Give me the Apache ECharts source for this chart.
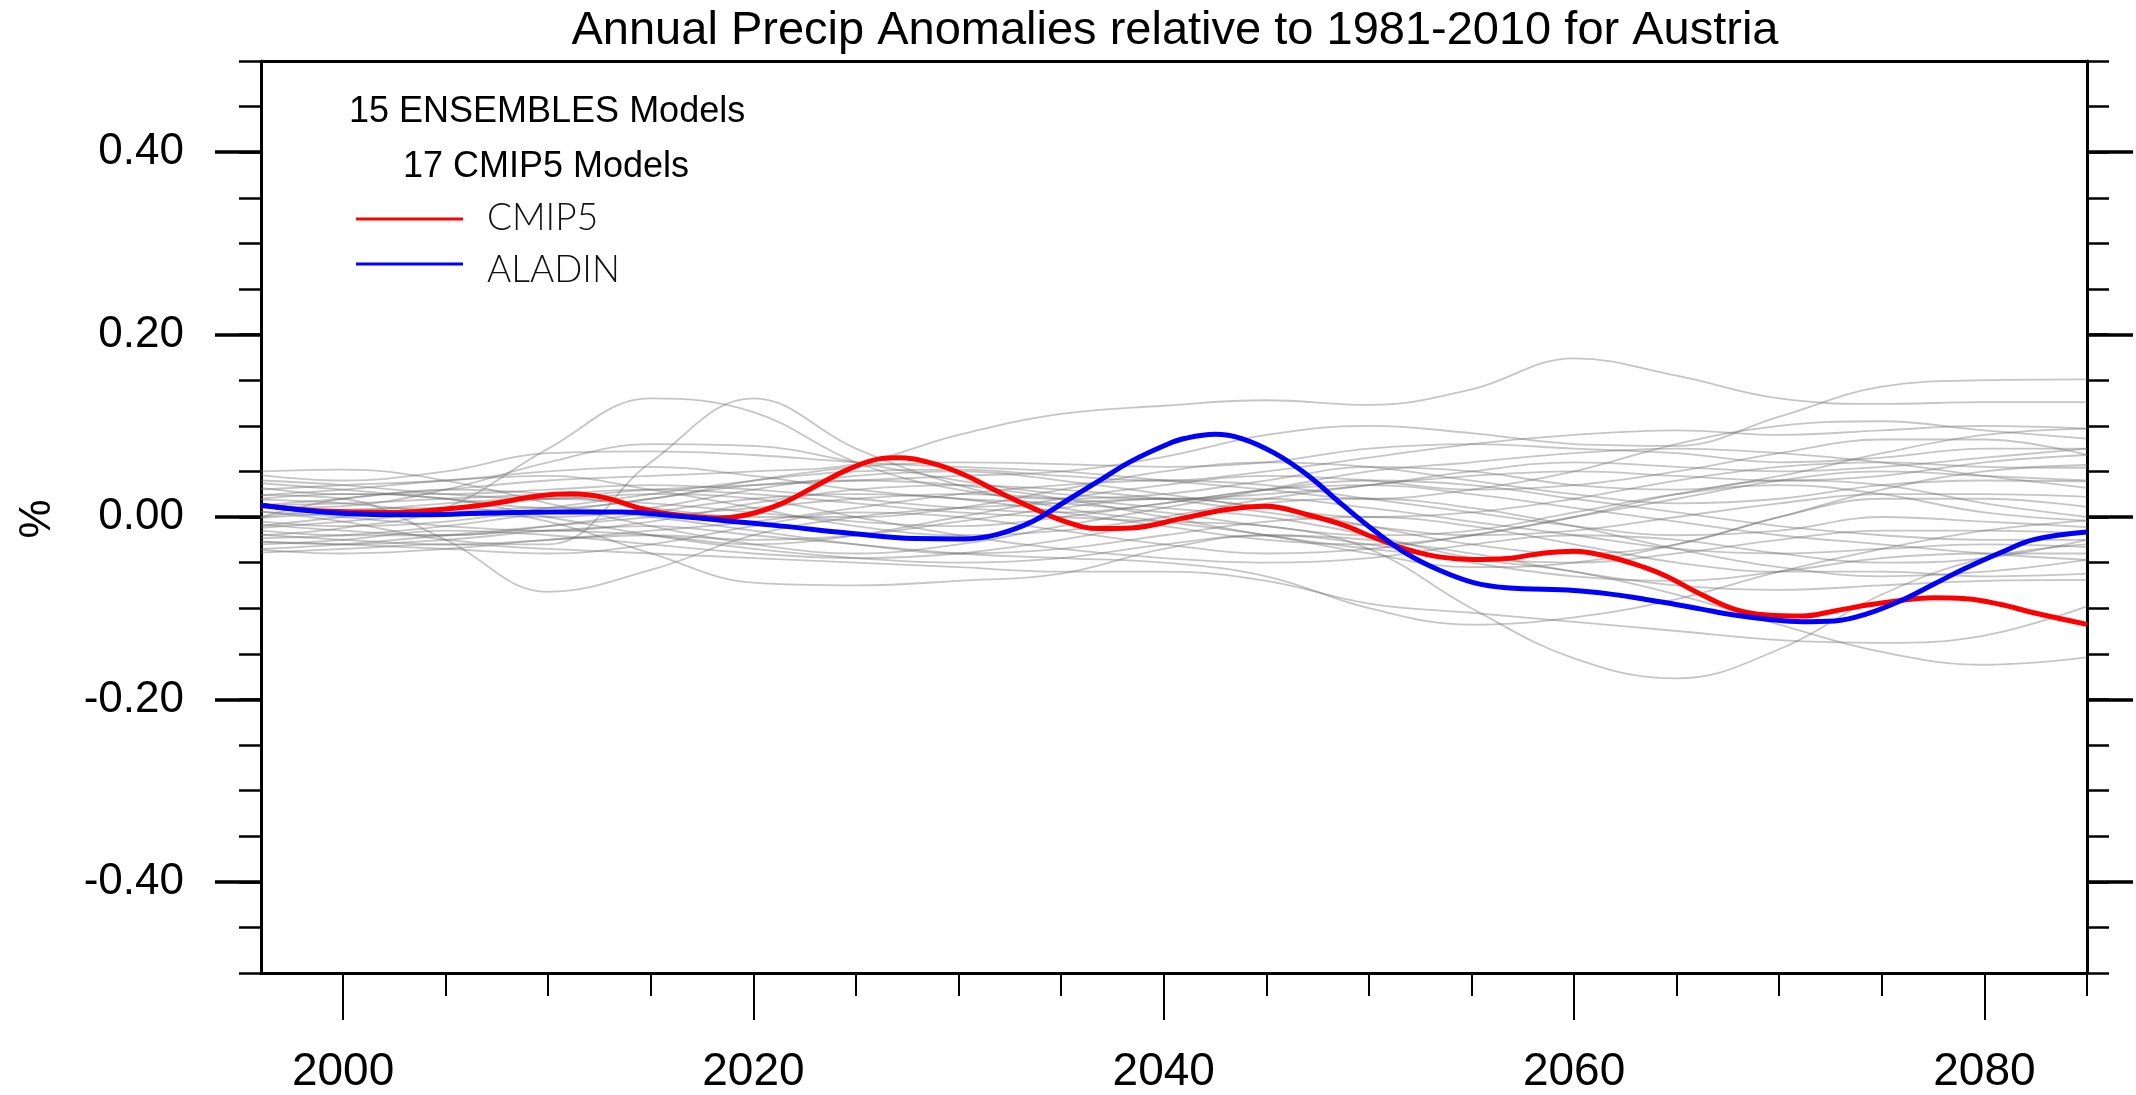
<!DOCTYPE html>
<html><head><meta charset="utf-8">
<script src="https://cdn.jsdelivr.net/npm/echarts@6/dist/echarts.min.js"></script>
<style>html,body{margin:0;padding:0;background:#fff}#c{width:2136px;height:1095px}</style>
</head><body><div id="c"></div>
<script>
// ---- data ----
const years = [1996,2000,2005,2010,2015,2020,2025,2030,2035,2040,2045,2050,2055,2060,2065,2070,2075,2080,2085];

const g01 = [-0.02,-0.012,0.01,0.075,0.13,0.115,0.06,0.03,0.02,0.025,0.04,0.055,0.05,0.035,0.03,0.045,0.07,0.09,0.097];
const g02 = [0.006,-0.005,-0.025,-0.03,0.06,0.13,0.075,0.035,0.01,-0.005,-0.02,-0.04,-0.055,-0.05,-0.03,0.0,0.03,0.05,0.057];
const g03 = [0.024,0.02,-0.025,-0.082,-0.058,-0.02,0.0,0.01,0.015,0.02,0.01,-0.01,-0.03,-0.04,-0.03,0.0,0.02,0.02,0.011];
const g04 = [0.0,0.008,0.01,-0.005,-0.04,-0.072,-0.075,-0.07,-0.062,-0.035,-0.02,-0.025,-0.04,-0.06,-0.075,-0.08,-0.075,-0.07,-0.069];
const g05 = [0.0,0.02,0.03,0.04,0.045,0.05,0.058,0.09,0.113,0.122,0.128,0.123,0.14,0.174,0.155,0.13,0.124,0.126,0.126];
const g06 = [-0.01,0.0,0.01,0.02,0.03,0.035,0.04,0.045,0.05,0.066,0.09,0.1,0.092,0.08,0.078,0.11,0.143,0.15,0.151];
const g07 = [0.013,0.015,0.02,0.025,0.03,0.025,0.015,0.005,0.0,-0.005,-0.01,-0.035,-0.1,-0.155,-0.177,-0.145,-0.085,-0.045,-0.03];
const g08 = [-0.035,-0.03,-0.02,-0.01,0.0,0.01,0.02,0.025,0.02,0.01,0.0,-0.02,-0.045,-0.06,-0.085,-0.118,-0.148,-0.162,-0.154];
const g09 = [-0.039,-0.035,-0.03,-0.035,-0.04,-0.045,-0.05,-0.055,-0.06,-0.06,-0.07,-0.095,-0.105,-0.115,-0.125,-0.135,-0.138,-0.13,-0.098];
const g10 = [-0.027,-0.03,-0.025,-0.015,-0.01,-0.02,-0.03,-0.04,-0.045,-0.05,-0.065,-0.1,-0.118,-0.11,-0.09,-0.06,-0.035,-0.015,-0.004];
const g11 = [0.05,0.052,0.04,0.015,-0.01,-0.03,-0.04,-0.03,-0.01,0.01,0.03,0.05,0.06,0.07,0.075,0.07,0.06,0.045,0.032];
const g12 = [0.046,0.04,0.05,0.07,0.072,0.068,0.06,0.055,0.05,0.04,0.03,0.02,0.03,0.05,0.08,0.1,0.105,0.095,0.086];
const g13 = [0.037,0.03,0.02,0.01,0.02,0.04,0.055,0.06,0.058,0.055,0.06,0.075,0.08,0.075,0.07,0.06,0.065,0.075,0.075];
const g14 = [0.032,0.025,0.025,0.03,0.035,0.03,0.02,0.01,0.005,0.015,0.03,0.04,0.035,0.02,0.005,-0.01,-0.02,-0.025,-0.025];
const g15 = [0.024,0.03,0.04,0.045,0.03,0.01,-0.01,-0.02,-0.015,0.0,0.02,0.035,0.045,0.05,0.045,0.04,0.045,0.06,0.068];
const g16 = [0.019,0.015,0.005,0.0,0.01,0.03,0.045,0.05,0.04,0.025,0.01,0.0,0.005,0.02,0.04,0.055,0.06,0.055,0.054];
const g17 = [0.013,0.02,0.03,0.025,0.01,0.0,0.0,0.01,0.03,0.05,0.06,0.055,0.04,0.025,0.015,0.02,0.035,0.04,0.039];
const g18 = [0.006,0.0,-0.01,-0.015,-0.005,0.015,0.03,0.035,0.03,0.02,0.005,-0.01,-0.02,-0.015,0.0,0.015,0.025,0.025,0.022];
const g19 = [-0.001,0.005,0.015,0.02,0.015,0.005,-0.005,-0.01,0.0,0.015,0.03,0.035,0.025,0.01,-0.005,-0.02,-0.03,-0.04,-0.047];
const g20 = [-0.008,-0.015,-0.02,-0.01,0.005,0.02,0.025,0.02,0.005,-0.01,-0.025,-0.03,-0.02,0.0,0.025,0.04,0.035,0.015,0.0];
const g21 = [-0.012,-0.005,0.005,0.01,0.0,-0.015,-0.03,-0.04,-0.035,-0.02,-0.005,0.0,-0.01,-0.03,-0.05,-0.06,-0.06,-0.065,-0.062];
const g22 = [-0.019,-0.025,-0.03,-0.025,-0.015,-0.005,0.01,0.025,0.035,0.04,0.035,0.02,0.005,-0.01,-0.02,-0.015,0.0,-0.005,-0.011];
const g23 = [-0.023,-0.02,-0.01,0.005,0.02,0.035,0.04,0.035,0.02,0.0,-0.02,-0.035,-0.045,-0.05,-0.04,-0.025,-0.015,-0.015,-0.018];
const g24 = [-0.027,-0.03,-0.035,-0.04,-0.03,-0.01,0.005,0.0,-0.015,-0.03,-0.04,-0.035,-0.02,0.0,0.02,0.04,0.05,0.045,0.04];
const g25 = [-0.03,-0.025,-0.015,-0.02,-0.03,-0.04,-0.045,-0.04,-0.025,-0.005,0.015,0.02,0.01,-0.01,-0.035,-0.055,-0.065,-0.06,-0.047];
const g26 = [-0.036,-0.04,-0.035,-0.025,-0.02,-0.025,-0.02,-0.005,0.01,0.02,0.02,0.01,-0.005,-0.02,-0.035,-0.04,-0.035,-0.03,-0.033];
const g27 = [0.02,0.025,0.02,0.0,-0.02,-0.035,-0.045,-0.05,-0.045,-0.03,-0.02,-0.03,-0.05,-0.065,-0.07,-0.06,-0.045,-0.04,-0.04];
const g28 = [0.01,0.012,0.03,0.06,0.08,0.078,0.06,0.04,0.025,0.02,0.025,0.035,0.05,0.06,0.055,0.05,0.055,0.065,0.075];
const g29 = [-0.005,-0.01,-0.005,0.01,0.025,0.04,0.05,0.052,0.045,0.04,0.05,0.065,0.08,0.09,0.095,0.09,0.095,0.1,0.097];
const g30 = [0.03,0.035,0.04,0.05,0.055,0.045,0.03,0.02,0.015,0.005,-0.01,-0.02,-0.015,0.005,0.025,0.035,0.025,0.005,-0.004];
const g31 = [-0.015,-0.02,-0.02,-0.015,-0.02,-0.03,-0.02,0.0,0.02,0.035,0.045,0.04,0.03,0.035,0.05,0.07,0.085,0.085,0.068];
const g32 = [0.04,0.035,0.025,0.02,0.025,0.02,0.0,-0.02,-0.035,-0.045,-0.05,-0.045,-0.03,-0.02,-0.025,-0.04,-0.05,-0.045,-0.025];
const grayModels = [g01,g02,g03,g04,g05,g06,g07,g08,g09,g10,g11,g12,g13,g14,g15,g16,g17,g18,g19,g20,g21,g22,g23,g24,g25,g26,g27,g28,g29,g30,g31,g32];

const redYears  = [1996,1999,2002.2,2004.6,2007.1,2009.5,2011.1,2012.8,2014.4,2016,2018.3,2019.7,2021.4,2023,2024.6,2026.2,2027,2028.7,2030.3,2031.9,2033.6,2035.2,2036.8,2038.4,2041,2043,2045,2047,2048.7,2050.3,2051.9,2053.5,2055.1,2056.7,2058.4,2060,2061.6,2063.4,2064.5,2066.2,2067.8,2069.4,2071.1,2072.7,2074.3,2075.9,2077.5,2079.1,2080.8,2082.4,2085];
const redValues = [0.013,0.0065,0.005,0.008,0.014,0.023,0.0255,0.021,0.010,0.003,-0.001,0.0025,0.015,0.0335,0.052,0.064,0.065,0.059,0.046,0.028,0.010,-0.005,-0.0127,-0.012,-0.001,0.008,0.0117,0.0025,-0.0084,-0.023,-0.0357,-0.044,-0.0466,-0.0455,-0.040,-0.0375,-0.043,-0.055,-0.065,-0.085,-0.101,-0.1075,-0.1086,-0.103,-0.0965,-0.0915,-0.0885,-0.0896,-0.096,-0.105,-0.1177];

const blueYears  = [1996,1999,2002.2,2004.1,2007.1,2010.3,2013.6,2016,2018.6,2021.4,2024.6,2027.9,2030.3,2031.9,2033.6,2035.2,2036.8,2038.4,2040.1,2041,2042.5,2043.8,2045.4,2047,2048.7,2050.3,2051.9,2053.5,2055.1,2056.7,2060,2061.6,2063.4,2064.5,2066.2,2067.8,2069.4,2071.1,2072.7,2074.3,2075.9,2077.5,2079.1,2080.8,2082.4,2085];
const blueValues = [0.0128,0.0055,0.0025,0.0025,0.0044,0.0055,0.0055,0.0015,-0.004,-0.010,-0.0175,-0.0237,-0.024,-0.019,-0.005,0.017,0.039,0.061,0.079,0.086,0.0907,0.086,0.070,0.046,0.0135,-0.0157,-0.041,-0.059,-0.072,-0.0776,-0.0805,-0.084,-0.090,-0.094,-0.101,-0.1075,-0.112,-0.1148,-0.114,-0.106,-0.092,-0.074,-0.056,-0.039,-0.0248,-0.0164];

const xMajorTicks = [2000,2020,2040,2060,2080];
const xMinorTicks = [2000,2005,2010,2015,2020,2025,2030,2035,2040,2045,2050,2055,2060,2065,2070,2075,2080,2085];
const yMajorTicks = [-0.4,-0.2,0,0.2,0.4];

const titleText = 'Annual Precip Anomalies relative to 1981-2010 for Austria';
const legendNotes = ['15 ENSEMBLES Models','17 CMIP5 Models'];
const legendNames = ['CMIP5','ALADIN'];

// ---- chart ----
const FONT = "'Liberation Sans', Arial, Helvetica, sans-serif";
const chart = echarts.init(document.getElementById('c'), null, {renderer:'canvas'});
function pairs(xs, vs){ return xs.map((x,i)=>[x, vs[i]]); }

const series = grayModels.map((g,i)=>({
  type:'line', name:'model '+(i+1), data:pairs(years,g), xAxisIndex:0, yAxisIndex:0,
  smooth:0.4, showSymbol:false, silent:true, z:2,
  lineStyle:{color:'rgba(110,110,110,0.40)', width:1.8}
}));
series.push({type:'line', name:legendNames[0], data:pairs(redYears,redValues), xAxisIndex:0, yAxisIndex:0,
  smooth:0.4, showSymbol:false, z:5, lineStyle:{color:'#ff0000', width:5}});
series.push({type:'line', name:legendNames[1], data:pairs(blueYears,blueValues), xAxisIndex:0, yAxisIndex:0,
  smooth:0.4, showSymbol:false, z:6, lineStyle:{color:'#0000ff', width:5}});

const axisCommonY = {type:'value', min:-0.5, max:0.5, splitLine:{show:false}};
const axisCommonX = {type:'value', min:1996, max:2085, splitLine:{show:false}};

const option = {
  animation:false,
  backgroundColor:'#fff',
  grid:{left:261, top:61, width:1826, height:915, containLabel:false},
  xAxis:[
    Object.assign({}, axisCommonX, {position:'bottom',
      axisLine:{show:true, onZero:false, lineStyle:{color:'#000', width:3}},
      axisTick:{show:true, customValues:xMinorTicks, length:23, inside:false, lineStyle:{color:'#000', width:2}},
      axisLabel:{show:false}}),
    Object.assign({}, axisCommonX, {position:'bottom',
      axisLine:{show:false, onZero:false},
      axisTick:{show:true, customValues:xMajorTicks, length:47, inside:false, lineStyle:{color:'#000', width:2}},
      axisLabel:{show:true, customValues:xMajorTicks, margin:76, color:'#000', fontSize:46, fontFamily:FONT,
        formatter:v=>String(Math.round(v))}}),
    Object.assign({}, axisCommonX, {position:'top',
      axisLine:{show:true, onZero:false, lineStyle:{color:'#000', width:3}},
      axisTick:{show:false}, axisLabel:{show:false}})
  ],
  yAxis:[
    Object.assign({}, axisCommonY, {position:'left', interval:0.05,
      axisLine:{show:true, onZero:false, lineStyle:{color:'#000', width:3}},
      axisTick:{show:true, length:22, inside:false, lineStyle:{color:'#000', width:2.5}},
      axisLabel:{show:false}}),
    Object.assign({}, axisCommonY, {position:'left',
      axisLine:{show:false, onZero:false},
      axisTick:{show:true, customValues:yMajorTicks, length:46, inside:false, lineStyle:{color:'#000', width:3.5}},
      axisLabel:{show:true, customValues:yMajorTicks, margin:77, color:'#000', fontSize:44, fontFamily:FONT,
        formatter:v=>v.toFixed(2)}}),
    Object.assign({}, axisCommonY, {position:'right', interval:0.05,
      axisLine:{show:true, onZero:false, lineStyle:{color:'#000', width:3}},
      axisTick:{show:true, length:22, inside:false, lineStyle:{color:'#000', width:2.5}},
      axisLabel:{show:false}}),
    Object.assign({}, axisCommonY, {position:'right',
      axisLine:{show:false, onZero:false},
      axisTick:{show:true, customValues:yMajorTicks, length:46, inside:false, lineStyle:{color:'#000', width:3.5}},
      axisLabel:{show:false}})
  ],
  series: series,
  graphic:[
    {type:'text', x:1175, y:31, silent:true, style:{text:titleText, fontSize:47, fontFamily:FONT, fill:'#000', align:'center', verticalAlign:'middle'}},
    {type:'text', x:38, y:519, rotation:Math.PI/2, silent:true, style:{text:'%', fontSize:44, fontFamily:FONT, fill:'#000', align:'center', verticalAlign:'middle'}},
    {type:'text', x:349, y:112, silent:true, style:{text:legendNotes[0], fontSize:36, fontFamily:FONT, fill:'#000', align:'left', verticalAlign:'middle'}},
    {type:'text', x:403, y:167, silent:true, style:{text:legendNotes[1], fontSize:36, fontFamily:FONT, fill:'#000', align:'left', verticalAlign:'middle'}},
    {type:'line', silent:true, shape:{x1:356, y1:219, x2:463, y2:219}, style:{stroke:'#ff0000', lineWidth:3}},
    {type:'line', silent:true, shape:{x1:356, y1:264, x2:463, y2:264}, style:{stroke:'#0000ff', lineWidth:3}},
    {type:'text', x:487, y:218, silent:true, style:{text:legendNames[0], fontSize:37, fontFamily:"Lato, "+FONT, fontWeight:300, fill:'#111', align:'left', verticalAlign:'middle'}},
    {type:'text', x:487, y:270, silent:true, style:{text:legendNames[1], fontSize:37, fontFamily:"Lato, "+FONT, fontWeight:300, fill:'#111', align:'left', verticalAlign:'middle'}}
  ]
};
chart.setOption(option);
</script>
</body></html>
